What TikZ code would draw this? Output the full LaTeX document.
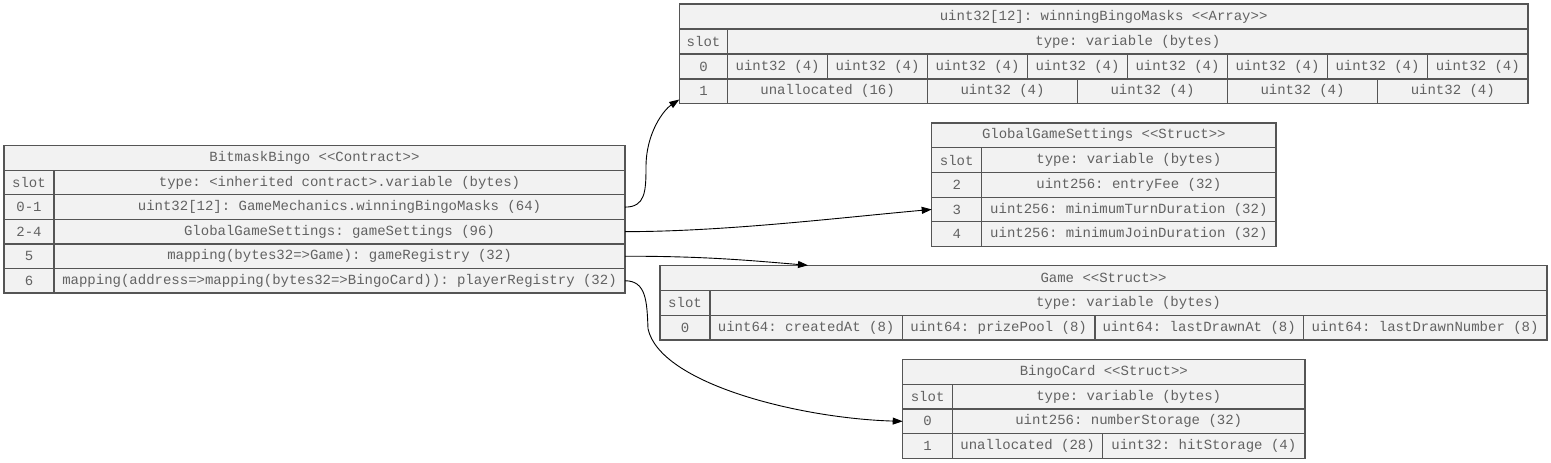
\documentclass[tikz,border=0pt]{standalone}
\usepackage{fontspec}
\setmonofont{Liberation Mono}
\usetikzlibrary{arrows.meta,calc}
\definecolor{cellfill}{HTML}{F2F2F2}
\definecolor{cellline}{HTML}{555555}
\definecolor{celltext}{HTML}{626262}
\tikzset{
  cellbox/.style={draw=cellline, fill=cellfill, line width=1.2pt, inner sep=0pt, outer sep=0pt,
    text=celltext, font=\ttfamily\fontsize{14pt}{16pt}\selectfont, anchor=center},
  edge/.style={draw=black, line width=0.9pt, -{Triangle[length=10pt,width=7pt]}}
}
\newcommand{\tcell}[6]{%
  \node[cellbox, minimum width={(#4-#2)*1pt}, minimum height={(#5-#3)*1pt}] (#1) at ({(#2+#4)/2},{(#3+#5)/2}) {#6};%
}
\begin{document}
\begin{tikzpicture}[x=1pt,y=-1pt]
\useasboundingbox (0,0) rectangle (1551,463);
% ---------- BitmaskBingo contract ----------
\tcell{ch}{4}{145.7}{625}{170.3}{BitmaskBingo <<Contract>>}
\tcell{cs0}{4}{170.3}{54}{194.8}{slot}
\tcell{cv0}{54}{170.3}{625}{194.8}{type: <inherited contract>.variable (bytes)}
\tcell{cs1}{4}{194.8}{54}{219.4}{0-1}
\tcell{cv1}{54}{194.8}{625}{219.4}{uint32[12]: GameMechanics.winningBingoMasks (64)}
\tcell{cs2}{4}{219.4}{54}{243.9}{2-4}
\tcell{cv2}{54}{219.4}{625}{243.9}{GlobalGameSettings: gameSettings (96)}
\tcell{cs3}{4}{243.9}{54}{268.5}{5}
\tcell{cv3}{54}{243.9}{625}{268.5}{mapping(bytes32=>Game): gameRegistry (32)}
\tcell{cs4}{4}{268.5}{54}{293}{6}
\tcell{cv4}{54}{268.5}{625}{293}{mapping(address=>mapping(bytes32=>BingoCard)): playerRegistry (32)}
% ---------- winningBingoMasks array ----------
\tcell{ah}{679.3}{4}{1528}{29}{uint32[12]: winningBingoMasks <<Array>>}
\tcell{as0}{679.3}{29}{727.7}{54}{slot}
\tcell{at}{727.7}{29}{1528}{54}{type: variable (bytes)}
\tcell{as1}{679.3}{54}{727.7}{79}{0}
\tcell{a01}{727.7}{54}{827.5}{79}{uint32 (4)}
\tcell{a02}{827.5}{54}{927.5}{79}{uint32 (4)}
\tcell{a03}{927.5}{54}{1027.5}{79}{uint32 (4)}
\tcell{a04}{1027.5}{54}{1127.5}{79}{uint32 (4)}
\tcell{a05}{1127.5}{54}{1227.5}{79}{uint32 (4)}
\tcell{a06}{1227.5}{54}{1327.5}{79}{uint32 (4)}
\tcell{a07}{1327.5}{54}{1427.5}{79}{uint32 (4)}
\tcell{a08}{1427.5}{54}{1528}{79}{uint32 (4)}
\tcell{as2}{679.3}{79}{727.7}{103.5}{1}
\tcell{a11}{727.7}{79}{927.5}{103.5}{unallocated (16)}
\tcell{a12}{927.5}{79}{1077.5}{103.5}{uint32 (4)}
\tcell{a13}{1077.5}{79}{1227.5}{103.5}{uint32 (4)}
\tcell{a14}{1227.5}{79}{1377.5}{103.5}{uint32 (4)}
\tcell{a15}{1377.5}{79}{1528}{103.5}{uint32 (4)}
% ---------- GlobalGameSettings struct ----------
\tcell{gh}{931.7}{123}{1276}{147.7}{GlobalGameSettings <<Struct>>}
\tcell{gs0}{931.7}{147.7}{981.7}{172.4}{slot}
\tcell{gt}{981.7}{147.7}{1276}{172.4}{type: variable (bytes)}
\tcell{gs1}{931.7}{172.4}{981.7}{197.1}{2}
\tcell{gv1}{981.7}{172.4}{1276}{197.1}{uint256: entryFee (32)}
\tcell{gs2}{931.7}{197.1}{981.7}{221.8}{3}
\tcell{gv2}{981.7}{197.1}{1276}{221.8}{uint256: minimumTurnDuration (32)}
\tcell{gs3}{931.7}{221.8}{981.7}{246.5}{4}
\tcell{gv3}{981.7}{221.8}{1276}{246.5}{uint256: minimumJoinDuration (32)}
% ---------- Game struct ----------
\tcell{mh}{660}{265.3}{1547}{290.5}{Game <<Struct>>}
\tcell{ms0}{660}{290.5}{710}{315.3}{slot}
\tcell{mt}{710}{290.5}{1547}{315.3}{type: variable (bytes)}
\tcell{ms1}{660}{315.3}{710}{340}{0}
\tcell{m1}{710}{315.3}{902.3}{340}{uint64: createdAt (8)}
\tcell{m2}{902.3}{315.3}{1095}{340}{uint64: prizePool (8)}
\tcell{m3}{1095}{315.3}{1303.3}{340}{uint64: lastDrawnAt (8)}
\tcell{m4}{1303.3}{315.3}{1547}{340}{uint64: lastDrawnNumber (8)}
% ---------- BingoCard struct ----------
\tcell{bh}{902.7}{359.3}{1305}{384.3}{BingoCard <<Struct>>}
\tcell{bs0}{902.7}{384.3}{952.5}{409}{slot}
\tcell{bt}{952.5}{384.3}{1305}{409}{type: variable (bytes)}
\tcell{bs1}{902.7}{409}{952.5}{433.7}{0}
\tcell{bv1}{952.5}{409}{1305}{433.7}{uint256: numberStorage (32)}
\tcell{bs2}{902.7}{433.7}{952.5}{458.3}{1}
\tcell{bv2}{952.5}{433.7}{1102.7}{458.3}{unallocated (28)}
\tcell{bv3}{1102.7}{433.7}{1305}{458.3}{uint32: hitStorage (4)}
% ---------- connectors ----------
\coordinate (arrtip) at ([yshift=4pt]as2.south west);
\coordinate (gametip) at ([xshift=148pt]mh.north west);
\draw[edge] (cv1.east) .. controls +(20,0) and +(0,25) .. ++(21,-40)
  .. controls +(0,-35) and +(-15,10) .. (arrtip);
\draw[edge] (cv2.east) .. controls +(100,0) and +(-90,8) .. (gs2.west);
\draw[edge] (cv3.east) .. controls +(80,0) and +(-60,-5) .. (gametip);
\draw[edge] (cv4.east) .. controls +(21,0) and +(-1,-28) .. ++(23,48)
  .. controls +(12,55) and +(-103,-3) .. (bs1.west);
\end{tikzpicture}
\end{document}
